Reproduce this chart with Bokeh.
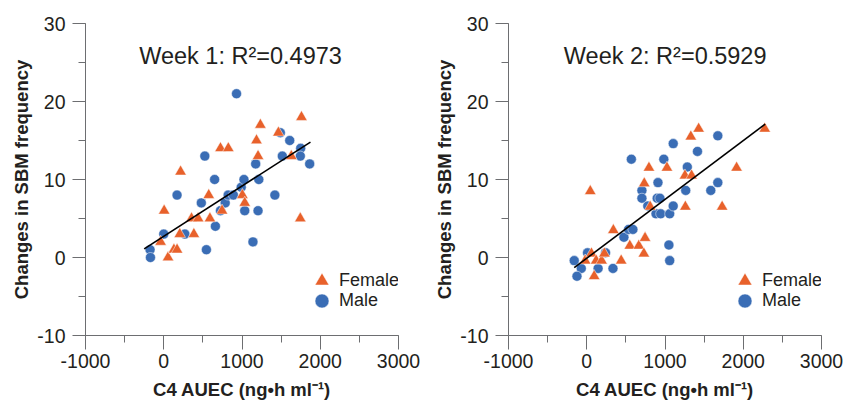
from bokeh.plotting import figure
from bokeh.layouts import row
from bokeh.models import (Range1d, SingleIntervalTicker, Label, Legend, LegendItem,
                          PrintfTickFormatter)
from bokeh.embed import file_html
from bokeh.resources import INLINE

# ---------------- data ----------------
w1_male_x = [-175, -170, 0, 170, 270, 525, 480, 545, 650, 660, 725, 785, 823, 890, 930,
             990, 1025, 1035, 1140, 1175, 1215, 1205, 1420, 1490, 1515, 1610, 1750, 1745, 1865]
w1_male_y = [1, 0, 3, 8, 3, 13, 7, 1, 10, 4, 6, 7, 8, 8, 21,
             9, 10, 6, 2, 12, 10, 6, 8, 16, 13, 15, 14, 13, 12]
w1_female_x = [-40, 5, 55, 130, 170, 205, 215, 355, 385, 440, 575, 590, 725, 745, 825,
               1005, 1035, 1185, 1205, 1235, 1465, 1630, 1745, 1760]
w1_female_y = [2, 6, 0, 1, 1, 3, 11, 5, 3, 5, 8, 5, 14, 6, 14,
               8, 7, 15, 13, 17, 16, 13, 5, 18]
w1_fit_x = [-250, 1875]
w1_fit_y = [1.1, 14.8]

w2_male_x = [-160, -70, -125, 10, 145, 240, 335, 475, 535, 590, 570, 705, 705, 780, 910, 900,
             935, 885, 945, 1060, 1105, 1050, 1060, 985, 1105, 1285, 1265, 1415, 1585, 1675, 1675]
w2_male_y = [-0.4, -1.4, -2.4, 0.6, -1.4, 0.6, -1.4, 2.6, 3.6, 3.6, 12.6, 8.6, 7.6, 6.6, 9.6, 7.6,
             7.6, 5.6, 5.6, 5.6, 6.6, 1.6, -0.4, 12.6, 14.6, 11.6, 8.6, 13.6, 8.6, 9.6, 15.6]
w2_female_x = [-20, 60, 95, 120, 190, 225, 340, 440, 45, 550, 665, 730, 745, 735, 795, 810,
               1025, 1255, 1260, 1330, 1340, 1430, 1730, 1915, 2275]
w2_female_y = [-0.4, 0.5, -2.4, -0.4, -0.4, 0.5, 3.5, -0.4, 8.5, 1.5, 1.5, 0.5, 2.5, 9.5, 11.5, 6.5,
               11.5, 10.5, 6.5, 15.5, 10.5, 16.5, 6.5, 11.5, 16.5]
w2_fit_x = [-160, 2280]
w2_fit_y = [-1.3, 17.1]

titles = ["Week 1: R\u00b2=0.4973", "Week 2: R\u00b2=0.5929"]
x_label = "C4 AUEC (ng\u2022h ml\u207b\u00b9)"
y_label = "Changes in SBM frequency"
legend_labels = ["Female", "Male"]

# ---------------- style ----------------
FONT = "Liberation Sans"
ORANGE = "#E8612B"
BLUE = "#3A6DB5"
AXIS = "#6D6E71"
TEXT = "#231F20"


def make_panel(title, title_x, mx, my, fx, fy, fitx, fity, width, border_right):
    p = figure(width=width, height=402, output_backend="svg", toolbar_location=None,
               x_range=Range1d(-1000, 3000), y_range=Range1d(-10, 30),
               min_border_left=85, min_border_right=border_right,
               min_border_top=23, min_border_bottom=66)
    p.outline_line_color = None
    p.grid.grid_line_color = None

    p.xaxis.ticker = SingleIntervalTicker(interval=1000, num_minor_ticks=2)
    p.yaxis.ticker = SingleIntervalTicker(interval=10, num_minor_ticks=2)
    p.xaxis.formatter = PrintfTickFormatter(format="%d")
    p.yaxis.formatter = PrintfTickFormatter(format="%d")
    for ax in (p.xaxis[0], p.yaxis[0]):
        ax.axis_line_color = AXIS
        ax.axis_line_width = 1
        ax.major_tick_line_color = AXIS
        ax.minor_tick_line_color = AXIS
        ax.major_tick_in = 0
        ax.minor_tick_in = 0
        ax.minor_tick_out = 7
        ax.major_label_text_font = FONT
        ax.major_label_text_font_size = "19.5px"
        ax.major_label_text_color = TEXT
        ax.axis_label_text_font = FONT
        ax.axis_label_text_font_style = "bold"
        ax.axis_label_text_font_size = "18.5px"
        ax.axis_label_text_color = TEXT
    p.xaxis.major_tick_out = 14
    p.yaxis.major_tick_out = 13
    p.xaxis.major_label_standoff = 4
    p.yaxis.major_label_standoff = 7
    p.xaxis.axis_label = x_label
    p.yaxis.axis_label = y_label
    p.xaxis.axis_label_standoff = 8
    p.yaxis.axis_label_standoff = 2

    rm = p.scatter(mx, my, marker="circle", size=10, fill_color=BLUE,
                   line_color="white", line_width=0.5)
    rf = p.scatter(fx, fy, marker="triangle", size=11.5, fill_color=ORANGE,
                   line_color="white", line_width=0.5)
    p.line(fitx, fity, line_color="black", line_width=1.6)

    p.add_layout(Label(x=title_x, y=25.85, text=title, text_align="center",
                       text_baseline="alphabetic", text_font=FONT,
                       text_font_size="23.5px", text_color=TEXT))

    for label, rend, loc_y in ((legend_labels[0], rf, 37), (legend_labels[1], rm, 17.5)):
        legend = Legend(items=[LegendItem(label=label, renderers=[rend])],
                        location=(219, loc_y), glyph_width=35, glyph_height=35,
                        label_standoff=-3, padding=0, margin=0,
                        border_line_color=None, background_fill_alpha=0,
                        label_text_font=FONT, label_text_font_size="18px",
                        label_text_color=TEXT)
        p.add_layout(legend)
    return p


p1 = make_panel(titles[0], 981, w1_male_x, w1_male_y, w1_female_x, w1_female_y,
                w1_fit_x, w1_fit_y, 423, 25)
p2 = make_panel(titles[1], 1002, w2_male_x, w2_male_y, w2_female_x, w2_female_y,
                w2_fit_x, w2_fit_y, 423, 25)

layout = row(p1, p2)
open("out.html", "w").write(file_html(layout, INLINE))
